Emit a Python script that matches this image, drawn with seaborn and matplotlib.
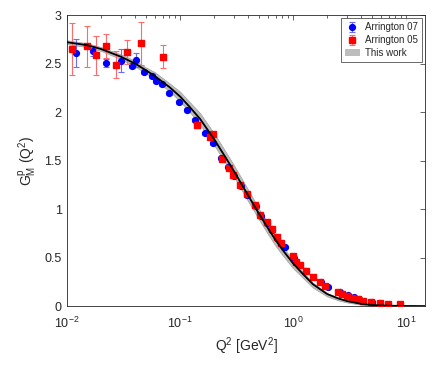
import matplotlib
matplotlib.use("Agg")
import matplotlib.pyplot as plt
from matplotlib.patches import Patch
from matplotlib.ticker import LogLocator, NullFormatter
import seaborn as sns
import pandas as pd

# Arrington 07 (blue circles)
a07_q2 = [0.0120, 0.0169, 0.0220, 0.0299, 0.0374, 0.0408, 0.048, 0.056, 0.061,
          0.0684, 0.080, 0.098, 0.1146, 0.136, 0.166, 0.197, 0.232, 0.265,
          0.300, 0.345, 0.392, 0.465, 0.515, 0.590, 0.655, 0.725, 0.84,
          1.02, 1.30, 1.75, 2.05, 2.60, 3.05, 3.45, 3.85, 4.95, 5.85]
a07_g = [2.61, 2.63, 2.51, 2.53, 2.48, 2.54, 2.415, 2.37, 2.32,
         2.29, 2.20, 2.10, 2.02, 1.92, 1.78, 1.68, 1.53, 1.43,
         1.34, 1.24, 1.15, 1.03, 0.93, 0.86, 0.79, 0.70, 0.61,
         0.50, 0.36, 0.25, 0.20, 0.145, 0.115, 0.092, 0.075, 0.045, 0.035]
a07_err = [0.14, 0.05, 0.04, 0.12, 0.03, 0.07, 0.02, 0.02, 0.02,
           0.02, 0.02, 0.02, 0.02, 0.02, 0.02, 0.02, 0.01, 0.01,
           0.01, 0.01, 0.01, 0.01, 0.01, 0.01, 0.01, 0.01, 0.01,
           0.01, 0.01, 0.01, 0.01, 0.005, 0.005, 0.005, 0.005, 0.003, 0.003]

# Arrington 05 (red squares)
a05_q2 = [0.0111, 0.0151, 0.0181, 0.0221, 0.0272, 0.0342, 0.0449, 0.0711,
          0.1406, 0.182, 0.194, 0.234, 0.268, 0.296, 0.340, 0.389, 0.461,
          0.510, 0.585, 0.648, 0.718, 0.78, 0.99, 1.06, 1.14, 1.29, 1.49,
          1.73, 1.92, 2.47, 2.70, 2.99, 3.31, 3.71, 4.14, 4.88, 5.81, 6.97, 8.85]
a05_g = [2.65, 2.68, 2.585, 2.68, 2.49, 2.62, 2.71, 2.57,
         1.87, 1.74, 1.77, 1.52, 1.42, 1.35, 1.25, 1.16, 1.04,
         0.94, 0.87, 0.80, 0.71, 0.65, 0.515, 0.457, 0.42, 0.364, 0.30,
         0.25, 0.206, 0.148, 0.124, 0.103, 0.086, 0.069, 0.058, 0.041, 0.034, 0.027, 0.021]
a05_err = [0.27, 0.21, 0.20, 0.12, 0.14, 0.12, 0.22, 0.12,
           0.03, 0.03, 0.03, 0.02, 0.02, 0.02, 0.02, 0.02, 0.02,
           0.01, 0.01, 0.01, 0.01, 0.01, 0.01, 0.01, 0.01, 0.01, 0.01,
           0.01, 0.01, 0.005, 0.005, 0.005, 0.005, 0.005, 0.005, 0.004, 0.004, 0.004, 0.004]

# This work: central curve and uncertainty band
fit_q2 = [0.01, 0.015, 0.02, 0.03, 0.04, 0.05, 0.06, 0.07, 0.08, 0.10,
          0.12, 0.15, 0.20, 0.25, 0.30, 0.40, 0.50, 0.60, 0.70, 0.80,
          1.0, 1.2, 1.5, 2.0, 2.5, 3.0, 4.0, 5.0, 7.0, 10.0, 15.0]
fit_g = [2.72, 2.69, 2.65, 2.57, 2.50, 2.43, 2.37, 2.31, 2.26, 2.16,
         2.06, 1.93, 1.72, 1.54, 1.39, 1.14, 0.95, 0.80, 0.68, 0.585,
         0.44, 0.34, 0.225, 0.125, 0.08, 0.052, 0.024, 0.012, 0.005, 0.002, 0.001]
fit_lo = [2.70, 2.67, 2.63, 2.545, 2.47, 2.40, 2.33, 2.27, 2.22, 2.11,
          2.01, 1.87, 1.66, 1.48, 1.33, 1.08, 0.89, 0.74, 0.62, 0.53,
          0.39, 0.30, 0.19, 0.10, 0.06, 0.038, 0.015, 0.006, 0.002, 0.0, 0.0]
fit_hi = [2.74, 2.71, 2.67, 2.595, 2.53, 2.46, 2.41, 2.35, 2.30, 2.21,
          2.11, 1.99, 1.78, 1.60, 1.45, 1.20, 1.00, 0.85, 0.72, 0.62,
          0.47, 0.36, 0.24, 0.135, 0.088, 0.058, 0.028, 0.015, 0.007, 0.003, 0.002]

fit = pd.DataFrame({"Q2": fit_q2, "G": fit_g})

sns.set_style("white")
plt.rcParams['font.family'] = ['Liberation Sans', 'DejaVu Sans']
plt.rcParams['mathtext.default'] = 'regular'

fig = plt.figure(figsize=(4.36, 3.68), dpi=100)
ax = fig.add_axes([0.154, 0.168, 0.821, 0.791])

ax.fill_between(fit_q2, fit_lo, fit_hi, facecolor='#bdbdbd', edgecolor='#a0a0a0',
                lw=0.5, zorder=1)
sns.lineplot(data=fit, x="Q2", y="G", color='black', lw=1.3, ax=ax, zorder=4)

h07 = ax.errorbar(a07_q2, a07_g, yerr=a07_err, fmt='o', color='#0000ff', ms=4.2,
                  ecolor='#6b6bff', elinewidth=0.8, capsize=2, capthick=0.8, zorder=2)
h05 = ax.errorbar(a05_q2, a05_g, yerr=a05_err, fmt='s', color='#ff0000', ms=3.8,
                  ecolor='#ff6b6b', elinewidth=0.8, capsize=2, capthick=0.8, zorder=3)

ax.set_xscale('log')
ax.set_xlim(0.01, 14.7)
ax.set_ylim(0, 3)
ax.set_yticks([0, 0.5, 1, 1.5, 2, 2.5, 3])
ax.set_yticklabels(['0', '0.5', '1', '1.5', '2', '2.5', '3'])
ax.xaxis.set_major_locator(LogLocator(base=10, numticks=10))
ax.xaxis.set_minor_locator(LogLocator(base=10, subs=range(2, 10), numticks=20))
ax.xaxis.set_minor_formatter(NullFormatter())

for s in ax.spines.values():
    s.set_color('#262626')
    s.set_linewidth(0.6)
ax.tick_params(which='both', direction='in', top=True, right=True,
               colors='#262626', labelsize=9, width=0.5)
ax.tick_params(which='major', length=3.5)
ax.tick_params(which='minor', length=2)
ax.tick_params(axis='x', pad=7)
ax.tick_params(axis='y', pad=4)

ax.set_xlabel('Q$^2$ [GeV$^2$]', fontsize=10, color='#262626', labelpad=3)
ax.set_ylabel('G$_M^p$ (Q$^2$)', fontsize=10, color='#262626')

handles = [h07, h05, Patch(facecolor='#bdbdbd', edgecolor='none')]
leg = ax.legend(handles, ['Arrington 07', 'Arrington 05', 'This work'],
                loc='upper right', fontsize=7, frameon=True, fancybox=False,
                handlelength=1.6, borderpad=0.4, labelspacing=0.3,
                borderaxespad=0.35, handletextpad=0.5)
leg.get_frame().set_edgecolor('#262626')
leg.get_frame().set_linewidth(0.6)

fig.savefig('out.png', dpi=100)
